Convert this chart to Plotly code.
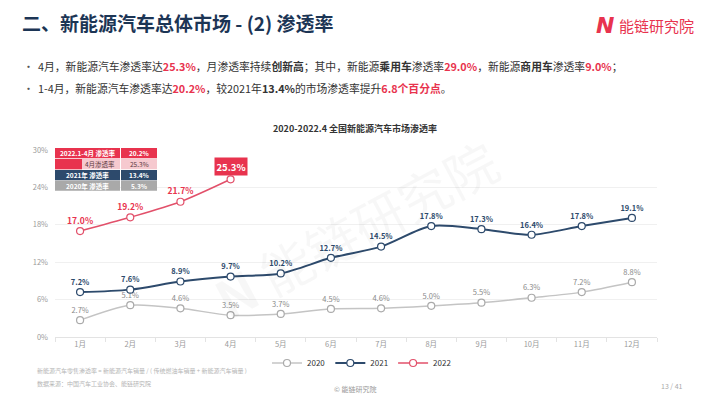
import plotly.graph_objects as go

months = ["1月", "2月", "3月", "4月", "5月", "6月", "7月", "8月", "9月", "10月", "11月", "12月"]
rate_2020 = [2.7, 5.1, 4.6, 3.5, 3.7, 4.5, 4.6, 5.0, 5.5, 6.3, 7.2, 8.8]
rate_2021 = [7.2, 7.6, 8.9, 9.7, 10.2, 12.7, 14.5, 17.8, 17.3, 16.4, 17.8, 19.1]
rate_2022 = [17.0, 19.2, 21.7, 25.3]
y_ticks = [0, 6, 12, 18, 24, 30]

table_labels = ["2022.1-4月 渗透率", "4月渗透率", "2021年 渗透率", "2020年 渗透率"]
table_values = ["20.2%", "25.3%", "13.4%", "5.3%"]

W, H = 710, 399
L, R, T, B = 55, 657, 150, 337

C20 = "#C4C4C4"
C21 = "#2D4A6C"
C22 = "#E2506A"
RED = "#E8334E"
FONT = "Noto Sans CJK SC"


def px(xp):
    return (xp - L) / (R - L)


def py(yp):
    return (B - yp) / (B - T)


def note(x, y, text, size, color, xanchor="center", family=FONT, **kw):
    return dict(x=px(x), y=py(y), xref="paper", yref="paper", text=text,
                showarrow=False, xanchor=xanchor, yanchor="middle",
                font=dict(size=size, color=color, family=family), **kw)


fig = go.Figure()

fig.add_trace(go.Scatter(
    x=months, y=rate_2020, name="2020", mode="lines+markers+text",
    line=dict(color=C20, width=1.5, shape="spline", smoothing=0.8),
    marker=dict(size=7, color="white", line=dict(color="#AAAAAA", width=1.2)),
    text=[f"{v:.1f}%" for v in rate_2020], textposition="top center",
    textfont=dict(size=7.5, color="#8A8A8A", family=FONT),
))
fig.add_trace(go.Scatter(
    x=months, y=rate_2021, name="2021", mode="lines+markers+text",
    line=dict(color=C21, width=2, shape="spline", smoothing=0.8),
    marker=dict(size=7, color="white", line=dict(color=C21, width=1.2)),
    text=[f"<b>{v:.1f}%</b>" for v in rate_2021], textposition="top center",
    textfont=dict(size=7.5, color=C21, family=FONT),
))
fig.add_trace(go.Scatter(
    x=months[:len(rate_2022)], y=rate_2022, name="2022", mode="lines+markers+text",
    line=dict(color=C22, width=1.5, shape="spline", smoothing=0.8),
    marker=dict(size=7, color="white", line=dict(color=C22, width=1.2)),
    text=[f"<b>{v:.1f}%</b>" for v in rate_2022[:-1]] + [""],
    textposition="top center",
    textfont=dict(size=8.5, color=RED, family=FONT),
))

shapes = []
annotations = []

# last 2022 label boxed
annotations.append(dict(
    x=months[len(rate_2022) - 1], y=rate_2022[-1], xref="x", yref="y",
    text=f"<b>{rate_2022[-1]:.1f}%</b>", showarrow=False, yshift=13,
    font=dict(size=9.5, color="white", family=FONT),
    bgcolor=RED, borderpad=1.5,
))

# table in top-left
row_tops = [148, 159, 170, 180.5]
row_h = 10.3
x0, xm, x1 = 55, 120, 157
row_colors = [RED, "#F6C9CF", C21, "#A9A9A9"]
row_text_colors = ["white", "#5A3A3F", "white", "white"]
for i, (lab, val) in enumerate(zip(table_labels, table_values)):
    yt = row_tops[i]
    yb = yt + row_h
    shapes.append(dict(type="rect", xref="paper", yref="paper",
                       x0=px(x0), x1=px(xm), y0=py(yb), y1=py(yt),
                       fillcolor=row_colors[i], line=dict(width=0), layer="above"))
    shapes.append(dict(type="rect", xref="paper", yref="paper",
                       x0=px(xm + 1), x1=px(x1), y0=py(yb), y1=py(yt),
                       fillcolor=row_colors[i], line=dict(width=0), layer="above"))
    if i == 1:
        shapes.append(dict(type="rect", xref="paper", yref="paper",
                           x0=px(x0), x1=px(82), y0=py(yb), y1=py(yt),
                           fillcolor=RED, line=dict(width=0), layer="above"))
    bold = i != 1
    annotations.append(note((x0 + xm) / 2 + (12 if i == 1 else 0), yt + row_h / 2,
                            f"<b>{lab}</b>" if bold else lab, 6.5, row_text_colors[i]))
    annotations.append(note((xm + 1 + x1) / 2, yt + row_h / 2,
                            f"<b>{val}</b>" if bold else val, 6.5, row_text_colors[i]))

# watermark
annotations.append(note(355, 228, "<b>N</b> 能链研究院", 52, "rgba(0,0,0,0.03)", textangle=-28))

# page header
annotations.append(note(20, 23, "<b>二、新能源汽车总体市场 - (2) 渗透率</b>", 19, "#1C3555", xanchor="left"))
annotations.append(note(616, 25, "<b><i>N</i></b>", 22, RED, xanchor="right", family="DejaVu Sans"))
annotations.append(note(617, 25, "能链研究院", 15, RED, xanchor="left"))

bullet1 = ("4月，新能源汽车渗透率达<span style='color:%s'><b>25.3%%</b></span>，月渗透率持续<b>创新高</b>；"
           "其中，新能源<b>乘用车</b>渗透率<span style='color:%s'><b>29.0%%</b></span>，"
           "新能源<b>商用车</b>渗透率<span style='color:%s'><b>9.0%%</b></span>；") % (RED, RED, RED)
bullet2 = ("1-4月，新能源汽车渗透率达<span style='color:%s'><b>20.2%%</b></span>，"
           "较2021年<b>13.4%%</b>的市场渗透率提升<span style='color:%s'><b>6.8个百分点</b></span>。") % (RED, RED)
for yy, txt in [(66, bullet1), (88, bullet2)]:
    annotations.append(note(21, yy, "•", 11, "#555555", xanchor="left"))
    annotations.append(note(36, yy, txt, 10.8, "#333333", xanchor="left"))

# chart title
annotations.append(note(355, 128, "<b>2020-2022.4 全国新能源汽车市场渗透率</b>", 9, "#333333"))

# footnotes
annotations.append(note(35, 370, "新能源汽车零售渗透率 = 新能源汽车销量 / ( 传统燃油车销量 + 新能源汽车销量 )",
                        6, "#B5B5B5", xanchor="left"))
annotations.append(note(35, 383, "数据来源：中国汽车工业协会、能链研究院", 6, "#B5B5B5", xanchor="left"))
annotations.append(note(355, 389, "© 能链研究院", 7, "#999999"))
annotations.append(note(672, 386, "13 / 41", 7, "#AAAAAA"))

fig.update_layout(
    width=W, height=H,
    margin=dict(l=L, r=W - R, t=T, b=H - B, pad=0),
    paper_bgcolor="white", plot_bgcolor="white",
    shapes=shapes, annotations=annotations,
    hovermode=False,
    font=dict(family=FONT),
    legend=dict(orientation="h", x=px(362), xanchor="center", y=py(363), yanchor="middle",
                font=dict(size=8, color="#333333", family=FONT), itemwidth=30,
                tracegroupgap=0, traceorder="normal"),
    xaxis=dict(
        type="category", categoryorder="array", categoryarray=months,
        range=[-0.5, len(months) - 0.5],
        showgrid=False, showline=True, linecolor="#E3E3E3", linewidth=1,
        ticks="outside", tickson="boundaries", ticklen=4, tickcolor="#E3E3E3",
        tickfont=dict(size=7.5, color="#9A9A9A", family=FONT), zeroline=False,
    ),
    yaxis=dict(
        range=[0, 30], tickvals=y_ticks, ticktext=[f"{v}%" for v in y_ticks],
        showgrid=True, gridcolor="#F0F0F0", gridwidth=1, zeroline=False,
        showline=False, ticks="", ticklabelstandoff=6,
        tickfont=dict(size=7.5, color="#9A9A9A", family=FONT),
    ),
)

fig.write_html("out.html", config={"displayModeBar": False},
               post_script="document.body.style.margin='0';document.body.style.padding='0';")
